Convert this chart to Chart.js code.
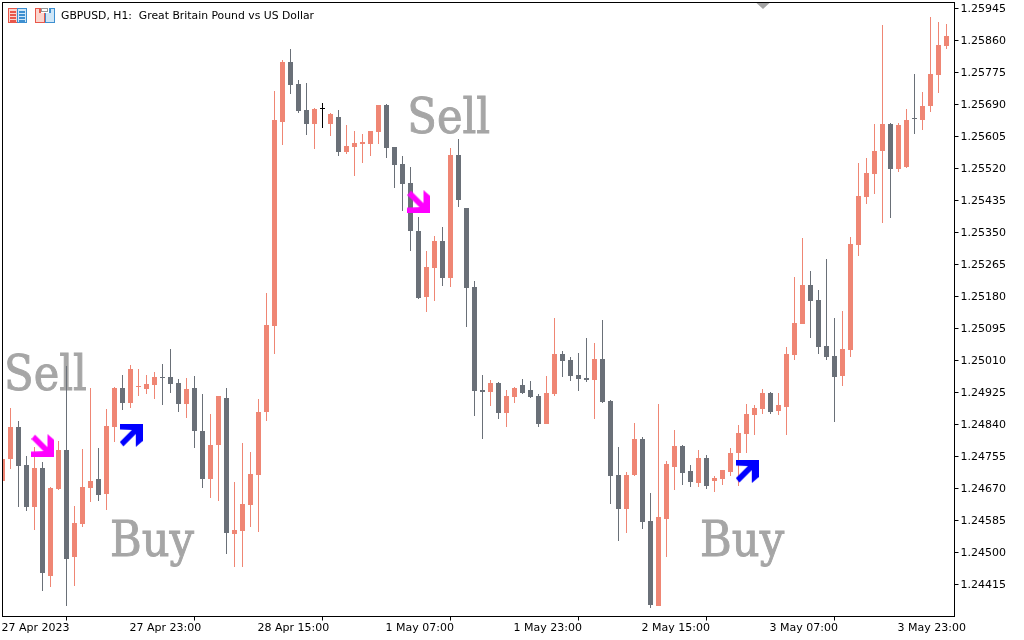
<!DOCTYPE html>
<html>
<head>
<meta charset="utf-8">
<style>html,body{margin:0;padding:0;background:#fff}canvas{display:block}</style>
<script src="https://cdn.jsdelivr.net/npm/chart.js@4"></script>
</head>
<body>
<canvas id="c" width="1024" height="640"></canvas>
<script>
const opens = [1.24690,1.24748,1.24833,1.24732,1.24621,1.24725,1.24438,1.24669,1.24772,1.24488,1.24576,1.24671,1.24695,1.24655,1.24833,1.24937,1.24897,1.24940,1.24934,1.24945,
1.24966,1.24966,1.24950,1.24894,1.24937,1.24823,1.24695,1.24786,1.24910,1.24549,1.24557,1.24626,1.24706,1.24873,1.25102,1.25644,1.25803,1.25744,1.25675,1.25638,
1.25678,1.25638,1.25657,1.25564,1.25577,1.25585,1.25585,1.25617,1.25689,1.25577,1.25532,1.25481,1.25354,1.25179,1.25256,1.25327,1.25229,1.25556,1.25415,1.25205,
1.24932,1.24926,1.24950,1.24871,1.24913,1.24945,1.24932,1.24916,1.24841,1.24921,1.25027,1.25011,1.24971,1.24964,1.24958,1.25014,1.24902,1.24706,1.24616,1.24706,
1.24801,1.24584,1.24358,1.24589,1.24727,1.24783,1.24717,1.24685,1.24751,1.24690,1.24695,1.24714,1.24764,1.24815,1.24865,1.24881,1.24924,1.24876,1.24887,1.25025,
1.25107,1.25211,1.25171,1.25048,1.25022,1.24969,1.25038,1.25317,1.25444,1.25505,1.25566,1.25638,1.25519,1.25524,1.25654,1.25649,1.25686,1.25768,1.25845];
const highs = [1.24748,1.24884,1.24849,1.24756,1.24780,1.24740,1.24674,1.24796,1.24995,1.24624,1.24775,1.24937,1.24778,1.24881,1.24940,1.24971,1.24998,1.24987,1.24971,1.24979,
1.25001,1.25041,1.24961,1.24964,1.24969,1.24921,1.24868,1.24916,1.24937,1.24687,1.24791,1.24767,1.24908,1.25189,1.25726,1.25808,1.25837,1.25755,1.25747,1.25681,
1.25694,1.25667,1.25675,1.25636,1.25620,1.25612,1.25620,1.25689,1.25691,1.25577,1.25553,1.25524,1.25391,1.25301,1.25341,1.25365,1.25574,1.25598,1.25415,1.25221,
1.24971,1.24958,1.24953,1.24932,1.24940,1.24961,1.24956,1.24921,1.24969,1.25123,1.25035,1.25019,1.25030,1.25070,1.25057,1.25118,1.24905,1.24780,1.24714,1.24844,
1.24807,1.24658,1.24894,1.24743,1.24825,1.24786,1.24732,1.24772,1.24759,1.24703,1.24719,1.24778,1.24839,1.24894,1.24892,1.24934,1.24926,1.24924,1.25046,1.25232,
1.25335,1.25248,1.25197,1.25280,1.25123,1.25141,1.25338,1.25535,1.25548,1.25638,1.25901,1.25641,1.25641,1.25678,1.25771,1.25723,1.25922,1.25909,1.25904];
const lows = [1.24690,1.24722,1.24621,1.24610,1.24560,1.24398,1.24408,1.24666,1.24358,1.24411,1.24568,1.24634,1.24637,1.24613,1.24794,1.24878,1.24884,1.24916,1.24921,1.24908,
1.24892,1.24924,1.24873,1.24857,1.24778,1.24671,1.24645,1.24637,1.24496,1.24462,1.24462,1.24568,1.24555,1.24849,1.25027,1.25582,1.25718,1.25667,1.25609,1.25572,
1.25628,1.25606,1.25553,1.25559,1.25500,1.25535,1.25553,1.25585,1.25548,1.25468,1.25407,1.25301,1.25173,1.25139,1.25168,1.25208,1.25205,1.25418,1.25099,1.24863,
1.24801,1.24889,1.24855,1.24833,1.24897,1.24921,1.24910,1.24833,1.24841,1.24916,1.24966,1.24956,1.24929,1.24953,1.24855,1.24897,1.24629,1.24531,1.24552,1.24703,
1.24562,1.24353,1.24358,1.24488,1.24666,1.24679,1.24674,1.24674,1.24669,1.24661,1.24679,1.24703,1.24677,1.24764,1.24812,1.24868,1.24868,1.24865,1.24812,1.25011,
1.25107,1.25070,1.25027,1.25011,1.24847,1.24942,1.25019,1.25288,1.25426,1.25452,1.25375,1.25388,1.25511,1.25521,1.25612,1.25622,1.25670,1.25721,1.25837];
const closes = [1.24748,1.24833,1.24730,1.24621,1.24725,1.24446,1.24671,1.24772,1.24483,1.24578,1.24674,1.24690,1.24653,1.24836,1.24937,1.24897,1.24987,1.24942,1.24948,1.24966,
1.24964,1.24948,1.24894,1.24934,1.24823,1.24695,1.24786,1.24916,1.24552,1.24560,1.24629,1.24709,1.24873,1.25104,1.25649,1.25803,1.25742,1.25673,1.25638,1.25678,
1.25678,1.25665,1.25564,1.25580,1.25588,1.25590,1.25620,1.25689,1.25574,1.25529,1.25479,1.25354,1.25176,1.25258,1.25327,1.25229,1.25556,1.25436,1.25203,1.24929,
1.24926,1.24950,1.24871,1.24916,1.24937,1.24924,1.24913,1.24841,1.24924,1.25027,1.25009,1.24969,1.24961,1.24958,1.25014,1.24900,1.24703,1.24616,1.24706,1.24801,
1.24581,1.24361,1.24594,1.24735,1.24783,1.24711,1.24687,1.24751,1.24677,1.24698,1.24719,1.24764,1.24817,1.24868,1.24884,1.24924,1.24873,1.24892,1.25027,1.25110,
1.25211,1.25168,1.25046,1.25019,1.24966,1.25041,1.25319,1.25447,1.25508,1.25566,1.25638,1.25519,1.25636,1.25649,1.25652,1.25686,1.25771,1.25848,1.25872];

const xTickIndex = [0,16,32,48,64,80,96,112];
const xTickLabels = ["27 Apr 2023","27 Apr 23:00","28 Apr 15:00","1 May 07:00","1 May 23:00","2 May 15:00","3 May 07:00","3 May 23:00"];
const yTickValues = [1.25945,1.25860,1.25775,1.25690,1.25605,1.25520,1.25435,1.25350,1.25265,1.25180,1.25095,1.25010,1.24925,1.24840,1.24755,1.24670,1.24585,1.24500,1.24415];

const sellArrowIndex = [5.06,52.06];
const sellArrowPrice = [1.24784,1.25432];
const buyArrowIndex = [16.1,93.1];
const buyArrowPrice = [1.24811,1.24715];

const noteWords = ["Sell","Sell","Buy","Buy"];
const noteIndex = [0.2,50.6,13.44,87.2];
const notePrice = [1.24932,1.25614,1.24491,1.24491];

const titleText = "GBPUSD, H1:  Great Britain Pound vs US Dollar";

const UP = '#EF8674', DOWN = '#6A7078', FLAT = '#000000';
const candleColor = i => closes[i] > opens[i] ? UP : closes[i] < opens[i] ? DOWN : FLAT;
const colors = opens.map((_, i) => candleColor(i));

function arrowSprite(color, up) {
  const c = document.createElement('canvas');
  c.width = 23; c.height = 23;
  const g = c.getContext('2d');
  const pts = [[3.5,0.5],[16,13],[16,0],[23,6],[23,23],[0,23],[0,17.5],[12,17],[0,5]];
  g.fillStyle = color;
  g.beginPath();
  pts.forEach(([x,y],i) => { const Y = up ? 23 - y : y; i ? g.lineTo(x,Y) : g.moveTo(x,Y); });
  g.closePath(); g.fill();
  return c;
}

const noPad = s => { s.paddingLeft = 0; s.paddingRight = 0; s.paddingTop = 0; s.paddingBottom = 0; };

const frame = {
  id: 'frame',
  beforeDatasetsDraw(chart) {
    const {ctx, scales:{x,y}} = chart;
    ctx.save();
    ctx.font = 'condensed 48px "DejaVu Serif"';
    ctx.fillStyle = '#A6A6A6';
    ctx.strokeStyle = '#A6A6A6';
    ctx.lineWidth = 0.9;
    ctx.textBaseline = 'alphabetic';
    noteWords.forEach((w,i) => {
      const px = x.getPixelForValue(noteIndex[i]), py = y.getPixelForValue(notePrice[i]);
      ctx.fillText(w, px, py);
      ctx.strokeText(w, px, py);
    });
    ctx.restore();
    chart.data.datasets.forEach((d,i) => {
      if (d.type === 'line') return;
      chart.getDatasetMeta(i).data.forEach(el => {
        let t = Math.round(el.y), b = Math.round(el.base);
        if (t === b) t = b - 1;
        el.y = t; el.base = b;
      });
    });
  },
  afterDraw(chart) {
    const {ctx, chartArea:a} = chart;
    ctx.save();
    ctx.strokeStyle = '#000'; ctx.lineWidth = 1;
    ctx.strokeRect(a.left, a.top, a.right - a.left, a.bottom - a.top);
    ctx.fillStyle = '#A3A3A3';
    ctx.beginPath(); ctx.moveTo(756.5,3); ctx.lineTo(769.5,3); ctx.lineTo(763,9); ctx.closePath(); ctx.fill();
    // title
    ctx.font = '11px "DejaVu Sans"';
    ctx.fillStyle = '#000';
    ctx.textBaseline = 'middle';
    ctx.save(); ctx.translate(61, 16.5); ctx.scale(253/ctx.measureText(titleText).width, 1);
    ctx.fillText(titleText, 0, 0); ctx.restore();
    // icons
    const R = '#E8574A', B = '#3D8FD0', RF = '#FBD5CE', BF = '#CFE6F7';
    const box = (x,y,w,h,f,s) => { ctx.fillStyle=f; ctx.fillRect(x,y,w,h); ctx.strokeStyle=s; ctx.lineWidth=1; ctx.strokeRect(x+.5,y+.5,w-1,h-1); };
    box(8,8,10,15,RF,R); box(17,8,10,15,BF,B);
    ctx.fillStyle=R; [11,14,17,20].forEach(v=>ctx.fillRect(10,v,6,2));
    ctx.fillStyle=B; [11,14,17,20].forEach(v=>ctx.fillRect(19,v,6,2));
    box(35,8,10,15,RF,R); box(45,8,10,15,BF,B);
    ctx.fillStyle='#fff'; ctx.fillRect(40,8,10,5);
    ctx.strokeStyle=R; ctx.strokeRect(39.5,8.5,1,4);
    ctx.strokeStyle=B; ctx.strokeRect(49.5,8.5,1,4);
    ctx.strokeStyle='#999'; ctx.strokeRect(41.5,8.5,6,3);
    ctx.restore();
  }
};

new Chart(document.getElementById('c'), {
  data: {
    datasets: [
      { type:'line', order:1, showLine:false, pointRadius:11, pointHoverRadius:11,
        pointStyle: arrowSprite('#FF00FF', false),
        data: sellArrowIndex.map((v,i)=>({x:v,y:sellArrowPrice[i]})) },
      { type:'line', order:1, showLine:false, pointRadius:11, pointHoverRadius:11,
        pointStyle: arrowSprite('#0000FF', true),
        data: buyArrowIndex.map((v,i)=>({x:v,y:buyArrowPrice[i]})) },
      { type:'bar', order:2, barThickness:5, minBarLength:1, inflateAmount:0, borderWidth:0,
        backgroundColor: colors, grouped:false,
        data: opens.map((v,i)=>({x:i,y:[v,closes[i]]})) },
      { type:'bar', order:3, barThickness:1, inflateAmount:0, borderWidth:0,
        backgroundColor: colors, grouped:false,
        data: lows.map((v,i)=>({x:i,y:[v,highs[i]]})) }
    ]
  },
  options: {
    responsive:false, animation:false, devicePixelRatio:1,
    layout:{autoPadding:false,padding:{left:2.5,top:2.5,right:0,bottom:0}},
    plugins:{legend:{display:false},tooltip:{enabled:false}},
    events:[],
    scales:{
      x:{ type:'linear', min:0, max:119, offset:false,
        grid:{drawOnChartArea:false,drawTicks:true,tickLength:4,color:'#000'},
        border:{display:false},
        afterBuildTicks:s=>{ s.ticks = xTickIndex.map(v=>({value:v})); },
        afterFit:s=>{ s.height = 23.5; noPad(s); },
        ticks:{ autoSkip:false, maxRotation:0, minRotation:0, align:'start', padding:1, labelOffset:-1, color:'#000',
          font:{family:'"DejaVu Sans"',size:11},
          callback:v=>xTickLabels[xTickIndex.indexOf(v)] }
      },
      y:{ type:'linear', position:'right', min:1.2433, max:1.2596094,
        grid:{drawOnChartArea:false,drawTicks:true,tickLength:4,color:'#000'},
        border:{display:false},
        afterBuildTicks:s=>{ s.ticks = yTickValues.map(v=>({value:v})); },
        afterFit:s=>{ s.width = 69.5; noPad(s); },
        ticks:{ autoSkip:false, padding:2, labelOffset:1, color:'#000',
          font:{family:'"DejaVu Sans"',size:11},
          callback:v=>v.toFixed(5) }
      }
    }
  },
  plugins:[frame]
});
</script>
</body>
</html>
